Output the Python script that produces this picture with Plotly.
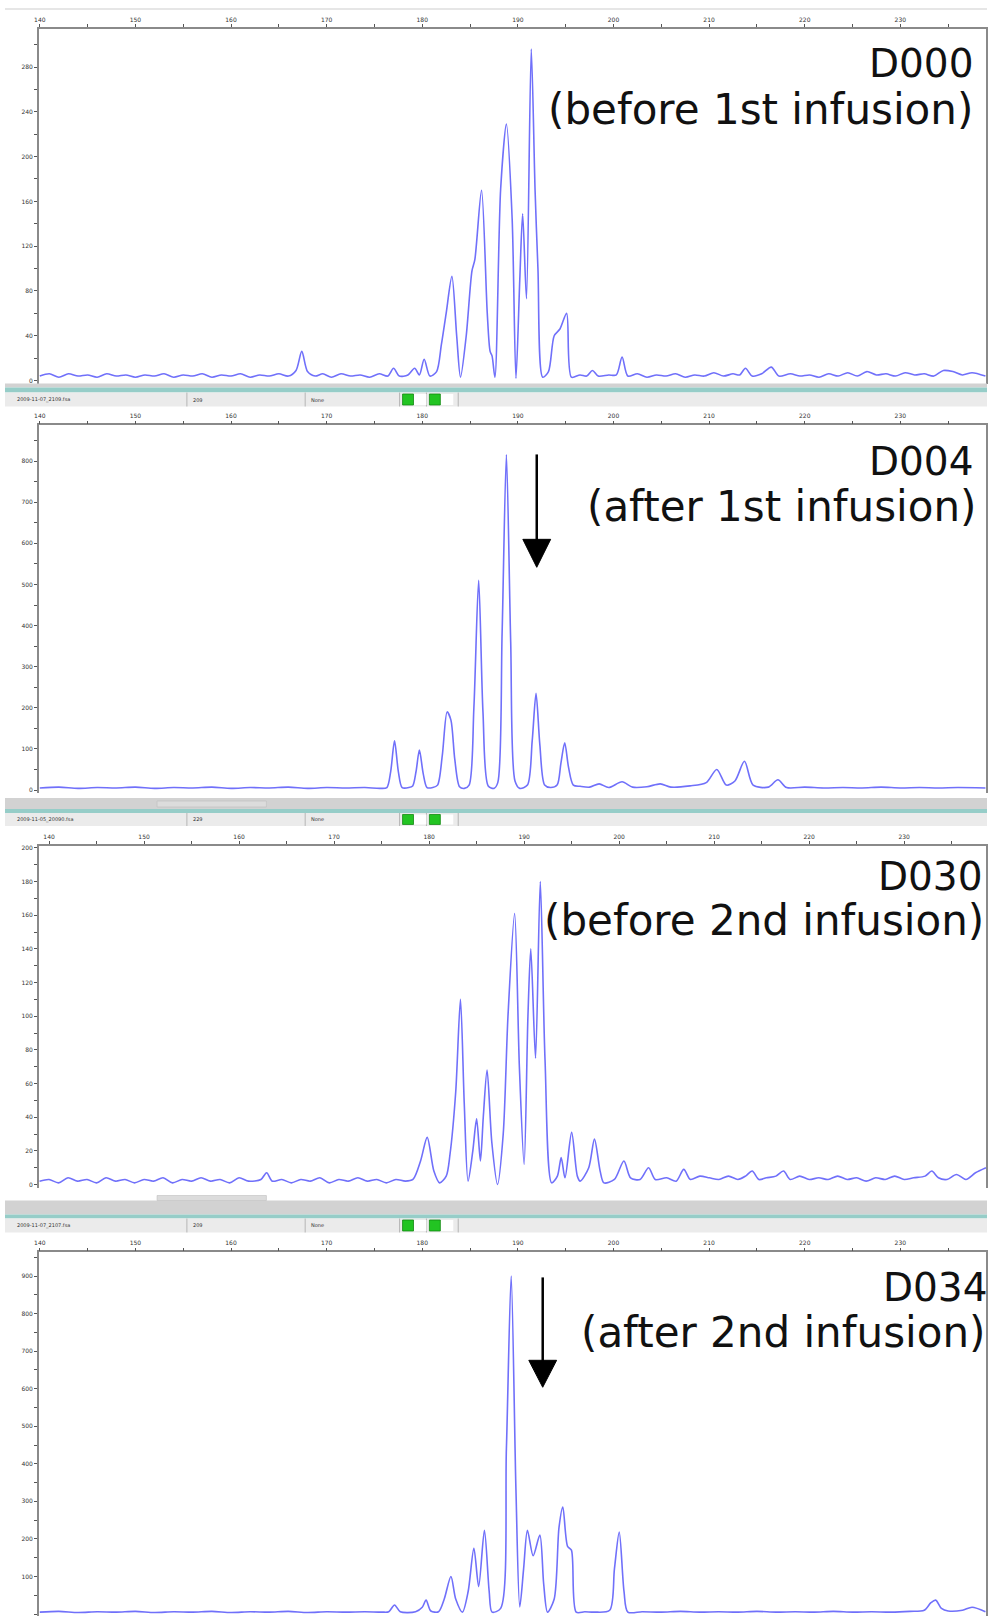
import plotly.graph_objects as go

W, H = 988, 1616

# ---------------- data (fragment size in bp, signal intensity) ----------------
d000 = [(140,4),(141,6),(142,3),(143,6),(144,4),(145,5),(146,3),(147,6),(148,4),(149,5),(150,3),(151,5),
        (152,4),(153,6),(154,3),(155,5),(156,4),(157,6),(158,3),(159,5),(160,4),(161,6),(162,3),(163,5),
        (164,4),(165,6),(166,4),(166.8,9),(167.4,26),(168.0,8),(168.8,4),(169.6,6),(170.5,3),(171.5,6),
        (172.5,4),(173.5,5),(174.5,3),(175.5,6),(176.4,4),(177.0,11),(177.6,4),(178.5,5),(179.2,11),
        (179.7,5),(180.2,19),(180.8,4),(181.5,8),(182.0,32),(182.5,60),(183.1,93),(183.6,40),(184.0,3),
        (184.6,40),(185.2,98),(185.5,108),(186.2,170),(186.8,60),(187.1,26),(187.3,22),(187.6,3),
        (188.2,171),(188.8,229),(189.4,145),(189.8,2),(190.2,90),(190.5,149),(190.9,73),(191.4,296),
        (191.8,170),(192.1,100),(192.6,3),(193.2,8),(193.8,40),(194.4,46),(195.1,60),(195.6,3),(196.5,5),
        (197.2,4),(197.8,9),(198.4,4),(199.5,5),(200.3,5),(200.9,21),(201.5,4),(202.5,6),(203.5,3),
        (204.5,5),(205.5,4),(206.5,6),(207.5,3),(208.5,5),(209.5,4),(210.5,7),(211.5,4),(212.5,6),
        (213.2,5),(213.8,11),(214.5,4),(215.5,6),(216.5,12),(217.3,4),(218.5,6),(219.5,4),(220.5,5),
        (221.5,3),(222.5,6),(223.5,4),(224.5,7),(225.5,4),(226.5,8),(227.5,5),(228.5,6),(229.5,4),
        (230.5,7),(231.5,5),(232.5,6),(233.5,4),(234.5,9),(235.5,8),(236.5,5),(237.5,7),(238.9,4)]

d004 = [(140,5),(142,7),(144,4),(146,6),(148,5),(150,7),(152,4),(154,6),(156,5),(158,7),(160,4),(162,6),
        (164,5),(166,7),(168,4),(170,6),(172,5),(174,6),(175.6,4),(176.3,6),(176.7,45),(177.1,120),
        (177.5,45),(177.9,6),(178.6,6),(179.0,10),(179.35,45),(179.7,97),(180.1,40),(180.5,6),(181.1,6),
        (181.6,12),(182.1,85),(182.6,190),(183.0,170),(183.4,75),(183.9,8),(184.4,4),(184.9,12),
        (185.4,200),(185.9,510),(186.35,190),(186.9,10),(187.5,4),(187.9,18),(188.35,380),(188.8,816),
        (189.25,360),(189.7,22),(190.2,4),(191.0,12),(191.5,120),(191.9,235),(192.3,110),(192.8,12),
        (193.4,6),(194.1,12),(194.5,65),(194.9,115),(195.3,55),(195.8,12),(196.5,9),(197.5,7),
        (198.5,15),(199.5,6),(200.9,20),(202.0,7),(203.5,8),(204.9,15),(206.0,7),(208.0,10),(209.7,18),
        (210.8,50),(211.8,12),(212.7,22),(213.7,70),(214.6,12),(216.2,7),(217.2,25),(218.1,6),(220,7),
        (222,5),(224,6),(226,5),(228,7),(230,5),(232,6),(234,5),(236,6),(238.9,5)]

d030 = [(139,2),(140,3),(141,1),(142,4),(143,2),(144,3),(145,1),(146,4),(147,2),(148,3),(149,1),(150,3),
        (151,2),(152,4),(153,1),(154,3),(155,2),(156,4),(157,2),(158,3),(159,1),(160,4),(161,2),
        (162.3,3),(162.9,7),(163.5,2),(164.5,3),(165.5,1),(166.5,3),(167.5,2),(168.5,4),(169.5,1),
        (170.5,3),(171.5,2),(172.5,4),(173.5,2),(174.5,3),(175.5,1),(176.5,3),(177.5,2),(178.3,3),
        (179.1,14),(179.8,28),(180.5,8),(181.1,1),(181.8,5),(182.2,18),(182.8,55),(183.3,110),(183.7,48),
        (184.1,2),(184.6,20),(185.0,39),(185.4,14),(185.7,40),(186.1,68),(186.6,25),(187.2,0),(187.8,30),
        (188.3,100),(189.0,161),(189.5,70),(190.0,12),(190.4,100),(190.7,140),(191.2,75),(191.7,180),
        (192.2,74),(192.9,1),(193.5,5),(193.9,16),(194.3,4),(195.0,31),(195.6,5),(195.9,2),(196.8,10),
        (197.4,27),(198.0,8),(198.4,1),(199.5,3),(200.5,14),(201.2,4),(202.2,3),(203.1,10),(203.8,3),
        (205.0,4),(206.0,2),(206.8,9),(207.5,3),(208.5,5),(209.5,4),(210.5,3),(211.5,5),(212.5,3),
        (213.3,5),(214.0,8),(214.7,3),(215.5,4),(216.5,5),(217.3,8),(218.0,3),(219.0,5),(220.0,3),
        (221.0,4),(222.0,3),(223.0,5),(224.0,3),(225.0,4),(226.0,2),(227.0,4),(228.0,3),(229.0,5),
        (230.0,3),(231.0,4),(232.2,5),(232.9,8),(233.6,4),(234.5,3),(235.5,6),(236.5,3),(237.5,7),
        (238.6,10)]

d034 = [(140,5),(142,7),(144,4),(146,6),(148,5),(150,7),(152,4),(154,6),(156,5),(158,7),(160,4),(162,6),
        (164,5),(166,7),(168,4),(170,6),(172,5),(174,6),(175.8,5),(176.5,6),(177.1,24),(177.7,6),
        (179.3,6),(180.0,18),(180.4,37),(180.9,8),(181.7,6),(182.3,40),(183.0,100),(183.5,40),(184.2,5),
        (184.8,60),(185.4,175),(185.9,73),(186.5,223),(187.0,60),(187.3,5),(188.2,15),(188.8,440),
        (189.3,900),(189.8,330),(190.2,19),(190.6,120),(191.0,223),(191.6,155),(192.3,210),(192.7,80),
        (193.1,5),(193.8,40),(194.3,230),(194.7,285),(195.2,180),(195.6,170),(196.1,5),(197.0,6),
        (198.0,5),(199.6,10),(200.1,120),(200.6,218),(201.1,60),(201.5,5),(203,6),(205,5),(207,7),
        (209,5),(211,6),(213,5),(215,7),(217,5),(219,6),(221,5),(223,7),(225,5),(227,6),(229,5),(231,7),
        (232.5,10),(233.2,30),(233.7,37),(234.3,15),(235.0,8),(236.5,10),(237.5,18),(238.9,6)]

series = [d000, d004, d030, d034]
day_labels = ["D000", "D004", "D030", "D034"]
sub_labels = ["(before 1st infusion)", "(after 1st infusion)",
              "(before 2nd infusion)", "(after 2nd infusion)"]
file_names = ["2009-11-07_2109.fsa", "2009-11-05_20090.fsa", "2009-11-07_2107.fsa"]
file_ids = ["209", "229", "209"]

# ---------------- layout geometry (pixels) ----------------
LEFT, RIGHT = 34, 987
geom = [
    dict(top=27,   bottom=382,  zero=379,  ys=1.121,  x140=35.0, xs=9.62, dtick=40),
    dict(top=424,  bottom=792,  zero=789,  ys=0.4116, x140=35.0, xs=9.62, dtick=100),
    dict(top=845,  bottom=1187, zero=1184, ys=1.685,  x140=44.3, xs=9.56, dtick=20),
    dict(top=1252, bottom=1616, zero=1614, ys=0.376,  x140=35.0, xs=9.62, dtick=100),
]
text_pos = [
    (975, 62, 975, 108),
    (975, 460, 978, 505),
    (984, 876, 986, 920),
    (989, 1287, 987, 1332),
]
arrows = [None, (535, 453, 538, 566), None, (541, 1277, 1360, 1387)]
seps = [
    dict(gray=(382, 386), teal=(386, 391), bar=(391, 405), thumb=None),
    dict(gray=(797, 808), teal=(808, 812), bar=(812, 825), thumb=(800, 806)),
    dict(gray=(1200, 1214), teal=(1214, 1218), bar=(1218, 1232), thumb=(1195, 1200)),
]

def fx(x):
    return x / W

def fy(y):
    return 1 - y / H

LINE_COLOR = "rgb(112,112,250)"
AXIS_COLOR = "#8a8a8a"

fig = go.Figure()
layout = dict(width=W, height=H, autosize=False, margin=dict(l=0, r=0, t=0, b=0),
              paper_bgcolor="white", plot_bgcolor="white", showlegend=False)

shapes, annotations = [], []

for i, (data, g) in enumerate(zip(series, geom)):
    n = "" if i == 0 else str(i + 1)
    xs = [p[0] for p in data]
    ys = [p[1] for p in data]
    fig.add_trace(go.Scatter(x=xs, y=ys, mode="lines",
                             line=dict(color=LINE_COLOR, width=1.6, shape="spline", smoothing=0.8),
                             xaxis="x" + n, yaxis="y" + n, hoverinfo="skip"))
    xr = [140 + (LEFT - g["x140"]) / g["xs"], 140 + (RIGHT - g["x140"]) / g["xs"]]
    yr = [-(g["bottom"] - g["zero"]) / g["ys"], (g["zero"] - g["top"]) / g["ys"]]
    layout["xaxis" + n] = dict(domain=[fx(LEFT), fx(RIGHT)], range=xr, side="top", anchor="y" + n,
                               showline=True, linecolor=AXIS_COLOR, linewidth=1.5,
                               ticks="outside", ticklen=3, tickcolor="#555", tick0=140, dtick=10,
                               minor=dict(dtick=5, ticks="outside", ticklen=3, tickcolor="#555"),
                               tickfont=dict(size=6, color="#333", family="DejaVu Sans"),
                               showgrid=False, zeroline=False, fixedrange=True)
    layout["yaxis" + n] = dict(domain=[fy(g["bottom"]), fy(g["top"])], range=yr, anchor="x" + n,
                               showline=True, mirror=True, linecolor=AXIS_COLOR, linewidth=1.5,
                               ticks="outside", ticklen=3, tickcolor="#555", tick0=0, dtick=g["dtick"],
                               minor=dict(dtick=g["dtick"] / 2, ticks="outside", ticklen=3, tickcolor="#555"),
                               tickfont=dict(size=6, color="#333", family="DejaVu Sans"),
                               showgrid=False, zeroline=False, fixedrange=True)
    xr1, y1, xr2, y2 = text_pos[i]
    annotations.append(dict(xref="paper", yref="paper", x=fx(xr1), y=fy(y1), xanchor="right",
                            yanchor="middle", text=day_labels[i], showarrow=False, borderpad=0,
                            font=dict(family="DejaVu Sans", size=39, color="#111")))
    annotations.append(dict(xref="paper", yref="paper", x=fx(xr2), y=fy(y2), xanchor="right",
                            yanchor="middle", text=sub_labels[i], showarrow=False, borderpad=0,
                            font=dict(family="DejaVu Sans", size=42, color="#111")))
    if arrows[i]:
        ax, atop, hy, tip = arrows[i]
        shapes.append(dict(type="line", xref="paper", yref="paper", x0=fx(ax), x1=fx(ax),
                           y0=fy(atop), y1=fy(hy + 2), line=dict(color="black", width=2.5)))
        path = "M {:.5f},{:.5f} L {:.5f},{:.5f} L {:.5f},{:.5f} Z".format(
            fx(ax - 14), fy(hy), fx(ax + 14), fy(hy), fx(ax), fy(tip))
        shapes.append(dict(type="path", xref="paper", yref="paper", path=path,
                           fillcolor="black", line=dict(color="black", width=1)))

# thin line at the very top
shapes.append(dict(type="rect", xref="paper", yref="paper", x0=0, x1=1, y0=fy(8), y1=fy(6),
                   fillcolor="#e6e6e6", line=dict(width=0), layer="below"))

# status bars between the panels
for k, s in enumerate(seps):
    def rect(y0, y1, color, x0=0, x1=W, lw=0, lc=None):
        shapes.append(dict(type="rect", xref="paper", yref="paper", x0=fx(x0), x1=fx(x1),
                           y0=fy(y1), y1=fy(y0), fillcolor=color,
                           line=dict(width=lw, color=lc or color)))
    rect(s["gray"][0], s["gray"][1], "#d2d2d2")
    if s["thumb"]:
        rect(s["thumb"][0], s["thumb"][1], "#dcdcdc", 153, 263, 0.6, "#bdbdbd")
    rect(s["teal"][0], s["teal"][1], "#96cdc8")
    rect(s["bar"][0], s["bar"][1], "#ebebeb")
    b0, b1 = s["bar"]
    for vx in (183, 302, 397, 424, 456):
        shapes.append(dict(type="line", xref="paper", yref="paper", x0=fx(vx), x1=fx(vx),
                           y0=fy(b1), y1=fy(b0), line=dict(color="#b5b5b5", width=1)))
    for gx0 in (400, 427):
        rect(b0 + 1.5, b1 - 1.5, "white", gx0, gx0 + 24)
        rect(b0 + 1.5, b1 - 1.5, "#22c422", gx0, gx0 + 11, 0.8, "#118811")
    ym = fy((b0 + b1) / 2)
    for tx, t in ((10, file_names[k]), (187, file_ids[k]), (306, "None")):
        annotations.append(dict(xref="paper", yref="paper", x=fx(tx), y=ym, xanchor="left",
                                yanchor="middle", text=t, showarrow=False,
                                font=dict(family="DejaVu Sans", size=5, color="#333")))

layout["shapes"] = shapes
layout["annotations"] = annotations
fig.update_layout(**layout)
fig.write_html("out.html", config={"displayModeBar": False},
               post_script="document.body.style.margin='0';document.body.style.overflow='hidden';")
